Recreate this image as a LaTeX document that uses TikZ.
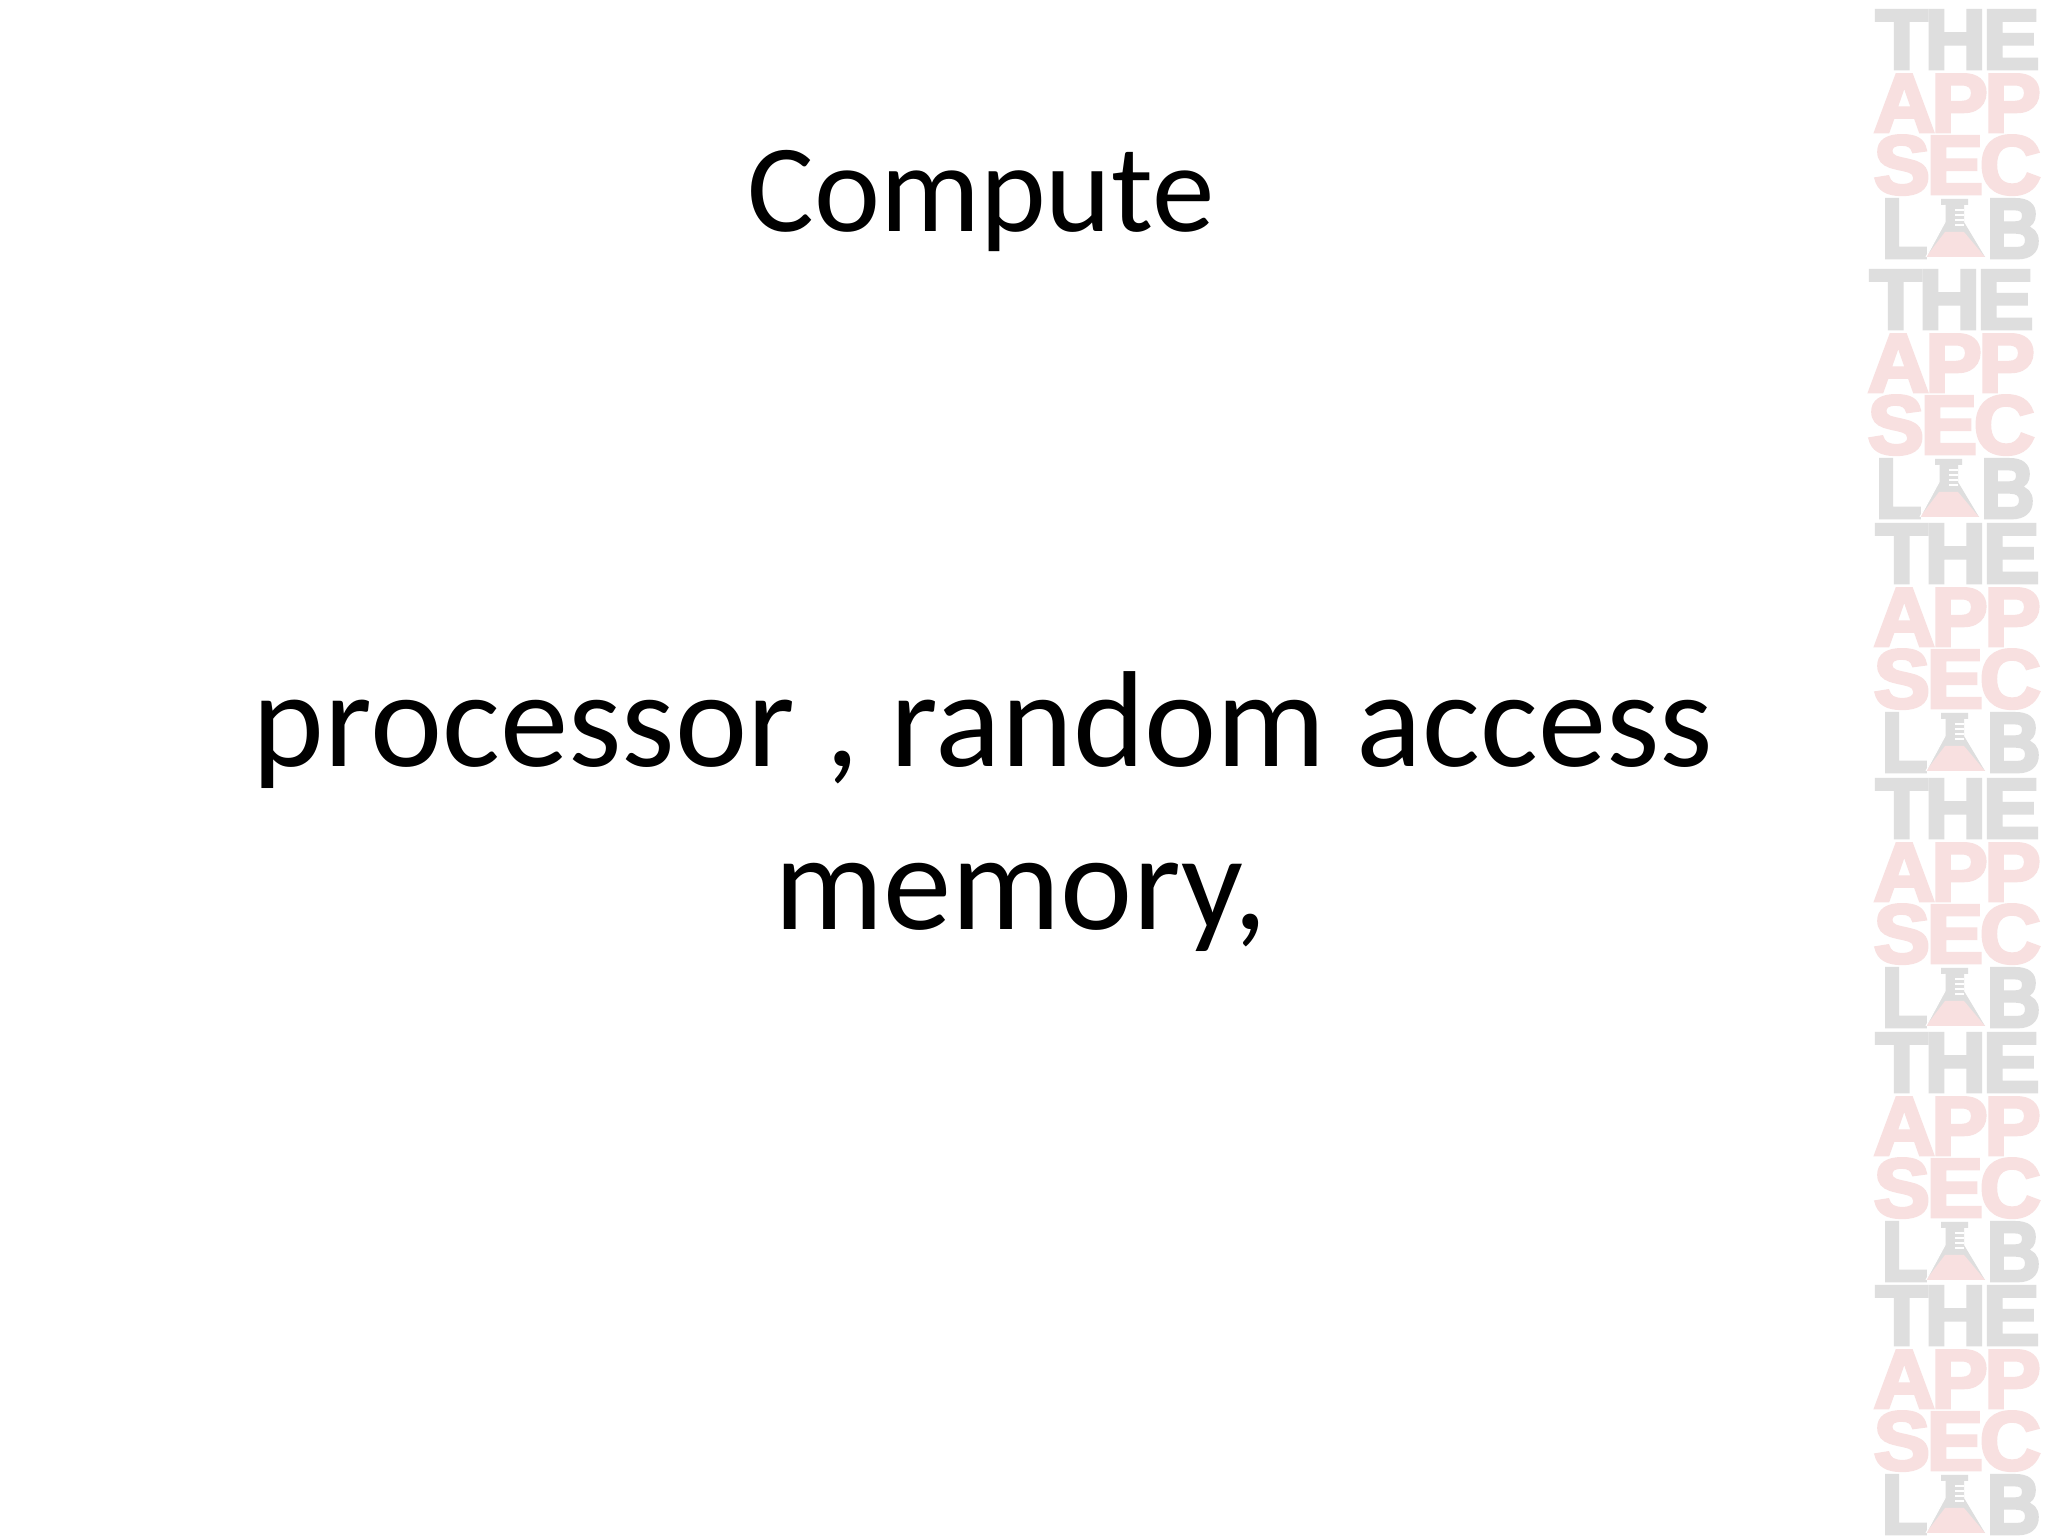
\documentclass[tikz,border=0pt]{standalone}
\usepackage{graphicx}
\usepackage{fontspec}
\setmainfont{Carlito}
\newfontfamily\logofont[FakeBold=4,LetterSpace=-4]{Liberation Sans Bold}
\definecolor{logogray}{HTML}{DEDEDE}
\definecolor{logopink}{HTML}{F8E0E0}
\newcommand{\logoword}[3]{\resizebox{#2}{#3}{\logofont #1}}
\tikzset{
  title/.style = {anchor=base,inner sep=0pt,font=\fontsize{35.6}{40}\selectfont},
  body/.style = {anchor=base,inner sep=0pt,font=\fontsize{38.9}{46.4}\selectfont},
  logogrey/.style = {anchor=north west,inner sep=0pt,text=logogray},
  logored/.style = {anchor=north west,inner sep=0pt,text=logopink}
}
\begin{document}
\begin{tikzpicture}
\useasboundingbox[fill=white] (0,0) rectangle (20.48,15.36);
\node[title] (Compute) at (9.81,13.04) {Compute};
\node[body] (Proc) at (9.83,7.69) {processor , random access};
\node[body] (Mem) at (10.21,6.06) {memory,};
% logo strip down the right side
\foreach \n/\x/\y in {1/18.75/15.26,2/18.69/12.66,3/18.75/10.12,4/18.75/7.57,5/18.75/5.03,6/18.75/2.50}{
  \begin{scope}[shift={(\x,\y)}]
    \node[logogrey] (the\n) at (0,0) {\logoword{THE}{1.64cm}{0.58cm}};
    \node[logored] (app\n) at (-0.02,-0.64) {\logoword{APP}{1.67cm}{0.57cm}};
    \node[logored] (sec\n) at (-0.02,-1.25) {\logoword{SEC}{1.67cm}{0.58cm}};
    \node[logogrey] (l\n) at (0.06,-1.89) {\logoword{L}{0.46cm}{0.58cm}};
    \node[logogrey] (b\n) at (1.11,-1.89) {\logoword{B}{0.54cm}{0.58cm}};
    \fill[logogray] (0.66,-1.89) -- (0.93,-1.89) -- (0.93,-1.95) -- (0.89,-1.95) -- (0.89,-2.12)
      -- (1.10,-2.47) -- (0.51,-2.47) -- (0.70,-2.12) -- (0.70,-1.95) -- (0.66,-1.95) -- cycle;
    \fill[logopink] (0.70,-2.22) -- (0.89,-2.22) -- (1.10,-2.47) -- (0.51,-2.47) -- cycle;
    \draw[white,line width=0.3pt] (0.70,-1.95) -- (0.70,-2.12) -- (0.51,-2.47);
    \foreach \t in {2.00,2.05,2.10,2.15}{
      \draw[white,line width=0.4pt] (0.80,-\t) -- (0.89,-\t);
    }
  \end{scope}
}
\end{tikzpicture}
\end{document}
